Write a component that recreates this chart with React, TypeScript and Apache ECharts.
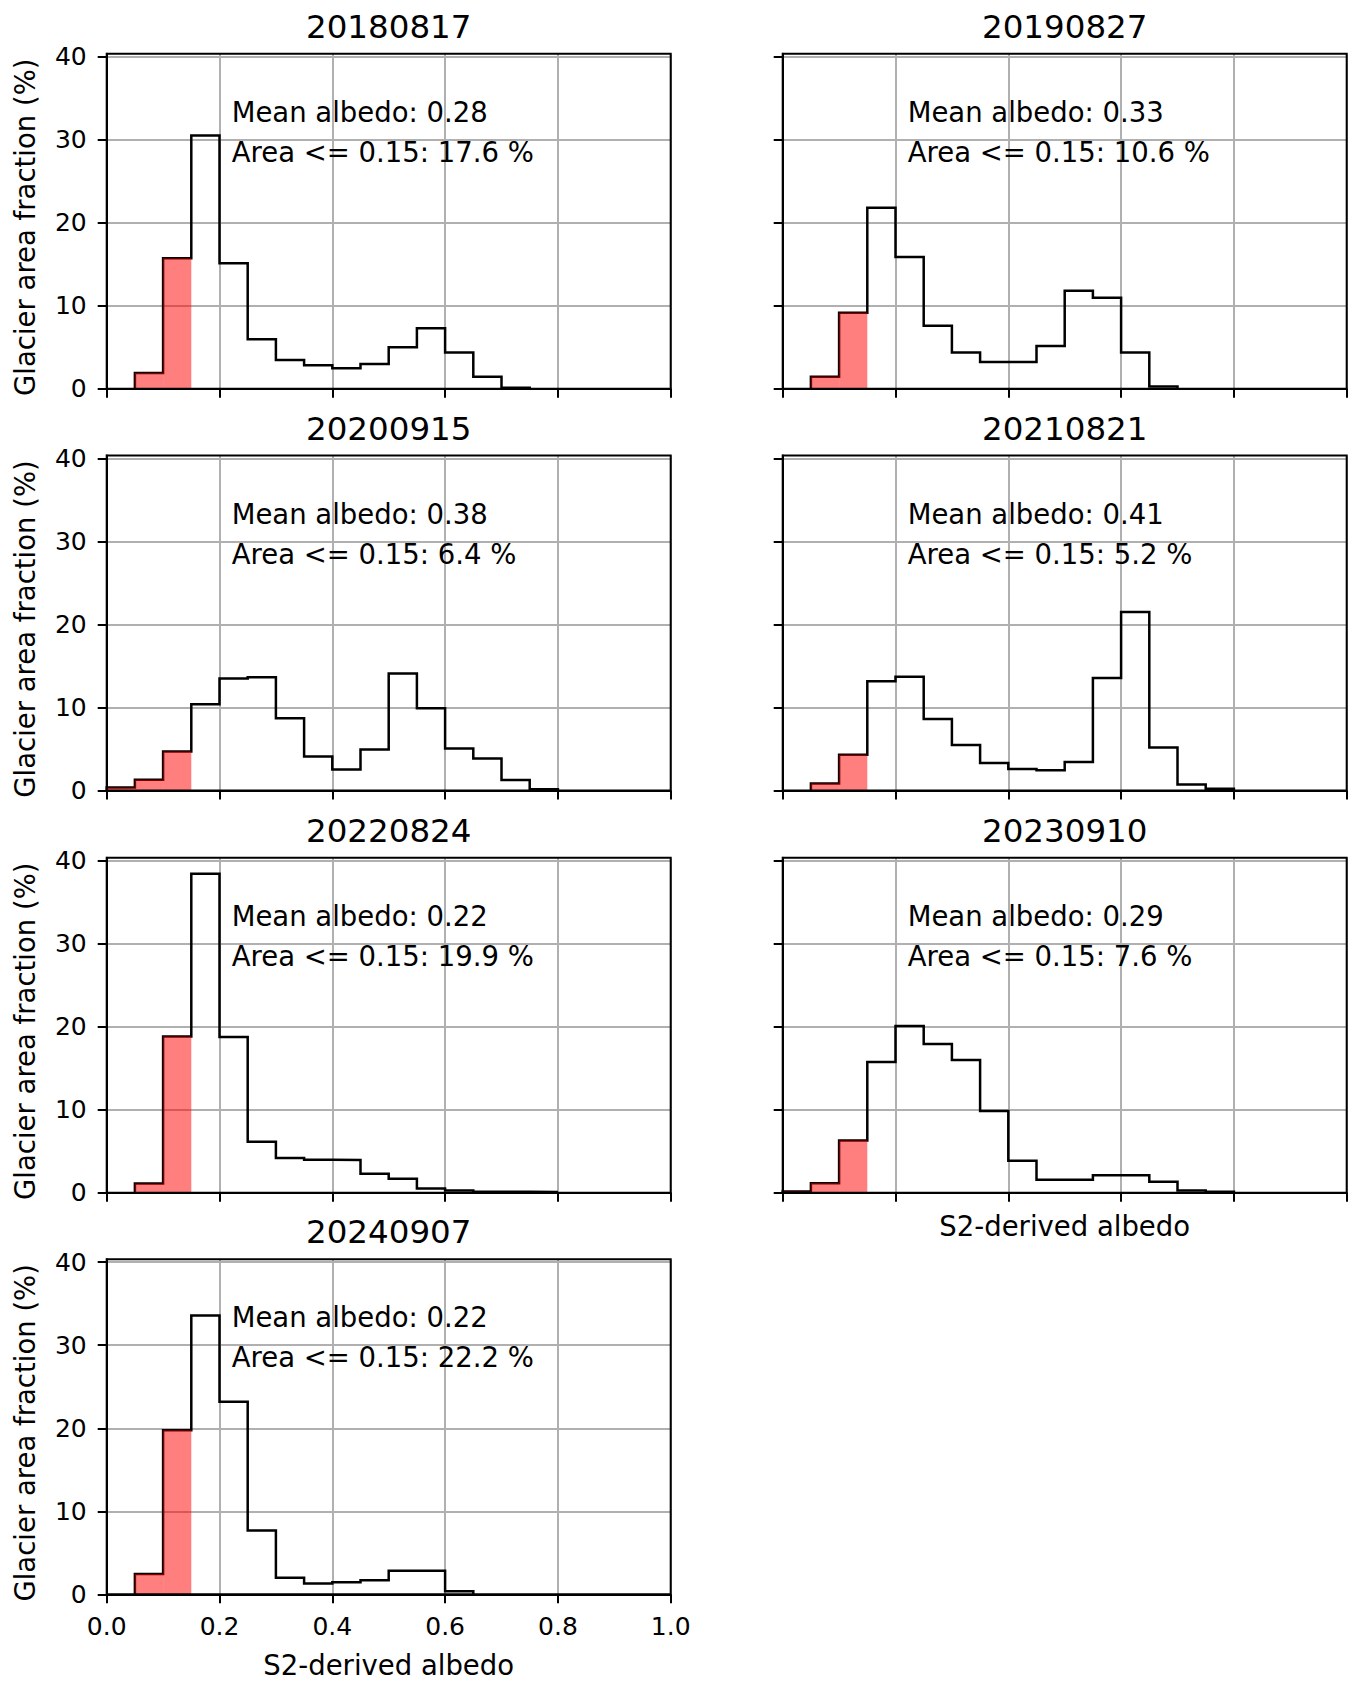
import React, { useEffect, useRef } from "react";
import * as echarts from "echarts";

// ---------------- data ----------------
const DATES = ["20180817", "20190827", "20200915", "20210821", "20220824", "20230910", "20240907"];

const BIN_EDGES = [0, 0.05, 0.1, 0.15, 0.2, 0.25, 0.3, 0.35, 0.4, 0.45, 0.5, 0.55, 0.6, 0.65, 0.7, 0.75, 0.8, 0.85, 0.9, 0.95, 1.0];

const H_20180817 = [0, 1.9, 15.7, 30.5, 15.1, 5.96, 3.46, 2.82, 2.45, 2.98, 4.99, 7.28, 4.35, 1.45, 0.1, 0, 0, 0, 0, 0];
const H_20190827 = [0, 1.45, 9.15, 21.8, 15.85, 7.57, 4.35, 3.22, 3.22, 5.15, 11.8, 10.95, 4.35, 0.28, 0, 0, 0, 0, 0, 0];
const H_20200915 = [0.35, 1.3, 4.7, 10.4, 13.5, 13.65, 8.7, 4.1, 2.54, 4.95, 14.1, 9.9, 5.07, 3.86, 1.25, 0.16, 0, 0, 0, 0];
const H_20210821 = [0, 0.85, 4.3, 13.16, 13.7, 8.6, 5.47, 3.3, 2.58, 2.45, 3.42, 13.56, 21.5, 5.19, 0.72, 0.2, 0, 0, 0, 0];
const H_20220824 = [0, 1.1, 18.8, 38.43, 18.75, 6.14, 4.18, 3.98, 3.95, 2.29, 1.69, 0.52, 0.28, 0.12, 0.1, 0.08, 0, 0, 0, 0];
const H_20230910 = [0.15, 1.15, 6.3, 15.74, 20.08, 17.9, 15.98, 9.84, 3.86, 1.57, 1.57, 2.09, 2.09, 1.33, 0.28, 0.12, 0, 0, 0, 0];
const H_20240907 = [0, 2.45, 19.75, 33.57, 23.2, 7.67, 2.0, 1.29, 1.45, 1.69, 2.85, 2.85, 0.36, 0, 0, 0, 0, 0, 0, 0];

const HISTS = [H_20180817, H_20190827, H_20200915, H_20210821, H_20220824, H_20230910, H_20240907];

const MEAN_ALBEDO = [0.28, 0.33, 0.38, 0.41, 0.22, 0.29, 0.22];
const AREA_BELOW = [17.6, 10.6, 6.4, 5.2, 19.9, 7.6, 22.2];
const THRESHOLD = 0.15;

const Y_TICKS = [0, 10, 20, 30, 40];
const X_LABEL = "S2-derived albedo";
const Y_LABEL = "Glacier area fraction (%)";

// ---------------- layout ----------------
const W = 1362;
const H = 1688;
const COL_LEFT = [106.7, 782.7];
const ROW_TOP = [53.7, 455.5, 857.7, 1259.3];
const PW = 564;
const PH = 335;
const Y_MAX = 40.35;
const FONT = '"DejaVu Sans", sans-serif';

function buildOption() {
  const grid: any[] = [];
  const xAxis: any[] = [];
  const yAxis: any[] = [];
  const series: any[] = [];
  const graphic: any[] = [];

  DATES.forEach((date, i) => {
    const col = i % 2;
    const row = Math.floor(i / 2);
    const left = COL_LEFT[col];
    const top = ROW_TOP[row];
    const hist = HISTS[i];
    const isBottomLeft = i === 6;
    const hasXName = i === 6 || i === 5;

    grid.push({ left, top, width: PW, height: PH, containLabel: false });

    xAxis.push({
      type: "value",
      gridIndex: i,
      min: 0,
      max: 1,
      interval: 0.2,
      axisLine: { show: true, onZero: false, lineStyle: { color: "#000", width: 2 } },
      axisTick: { show: true, inside: false, length: 9, lineStyle: { color: "#000", width: 2 } },
      axisLabel: {
        show: isBottomLeft,
        margin: 19.5,
        fontSize: 25,
        fontFamily: FONT,
        color: "#000",
        formatter: (v: number) => v.toFixed(1),
      },
      splitLine: { show: true, lineStyle: { color: "#b0b0b0", width: 2 } },
      name: hasXName ? X_LABEL : "",
      nameLocation: "middle",
      nameGap: isBottomLeft ? 57 : 19,
      nameTextStyle: { fontSize: 27.5, fontFamily: FONT, color: "#000" },
    });

    yAxis.push({
      type: "value",
      gridIndex: i,
      min: 0,
      max: Y_MAX,
      interval: 10,
      axisLine: { show: true, onZero: false, lineStyle: { color: "#000", width: 2 } },
      axisTick: {
        show: true,
        inside: false,
        length: 9,
        customValues: Y_TICKS,
        lineStyle: { color: "#000", width: 2 },
      },
      axisLabel: {
        show: col === 0,
        customValues: Y_TICKS,
        margin: 20,
        fontSize: 25,
        fontFamily: FONT,
        color: "#000",
        formatter: (v: number) => (Math.abs(v % 10) < 1e-9 ? String(v) : ""),
      },
      splitLine: { show: true, lineStyle: { color: "#b0b0b0", width: 2 } },
      name: col === 0 ? Y_LABEL : "",
      nameLocation: "middle",
      nameRotate: 90,
      nameGap: 67.5,
      nameTextStyle: { fontSize: 27.5, fontFamily: FONT, color: "#000", padding: [0, 12, 0, 0] },
    });

    // step outline (from first to last non-empty bin)
    let first = hist.findIndex((h) => h > 0);
    let last = hist.length - 1;
    while (last > 0 && hist[last] <= 0) last--;
    if (first < 0) first = 0;
    const stepData: number[][] = [[BIN_EDGES[first], 0]];
    for (let k = first; k <= last; k++) stepData.push([BIN_EDGES[k], hist[k]]);
    stepData.push([BIN_EDGES[last + 1], hist[last]]);
    stepData.push([BIN_EDGES[last + 1], 0]);

    series.push({
      type: "line",
      xAxisIndex: i,
      yAxisIndex: i,
      step: "end",
      symbol: "none",
      showSymbol: false,
      silent: true,
      data: stepData,
      lineStyle: { color: "#000", width: 2.5, join: "miter" },
      z: 2,
    });

    // red fill for bins <= threshold
    const redData: number[][] = [];
    hist.forEach((h, k) => {
      if (BIN_EDGES[k + 1] <= THRESHOLD + 1e-9 && h > 0) redData.push([BIN_EDGES[k], BIN_EDGES[k + 1], h]);
    });
    series.push({
      type: "custom",
      xAxisIndex: i,
      yAxisIndex: i,
      silent: true,
      z: 3,
      encode: { x: [0, 1], y: 2 },
      data: redData,
      renderItem: (params: any, api: any) => {
        const p0 = api.coord([api.value(0), api.value(2)]);
        const p1 = api.coord([api.value(1), 0]);
        return {
          type: "rect",
          shape: { x: p0[0], y: p0[1], width: p1[0] - p0[0], height: p1[1] - p0[1] },
          style: { fill: "rgba(255,0,0,0.5)", stroke: null },
        };
      },
    });

    // frame
    graphic.push({
      type: "rect",
      z: 20,
      silent: true,
      shape: { x: left, y: top, width: PW, height: PH },
      style: { fill: "none", stroke: "#000", lineWidth: 2 },
    });
    // title
    graphic.push({
      type: "text",
      z: 20,
      x: left + PW / 2,
      y: top - 27,
      style: {
        text: date,
        font: `32.5px ${FONT}`,
        fill: "#000",
        align: "center",
        verticalAlign: "middle",
        textAlign: "center",
        textVerticalAlign: "middle",
      },
    });
    // annotations
    const lines = [
      `Mean albedo: ${MEAN_ALBEDO[i].toFixed(2)}`,
      `Area <= ${THRESHOLD.toFixed(2)}: ${AREA_BELOW[i].toFixed(1)} %`,
    ];
    lines.forEach((t, j) => {
      graphic.push({
        type: "text",
        z: 20,
        x: left + 125,
        y: top + 58 + j * 40,
        style: {
          text: t,
          font: `27.5px ${FONT}`,
          fill: "#000",
          align: "left",
          verticalAlign: "middle",
          textAlign: "left",
          textVerticalAlign: "middle",
        },
      });
    });
  });

  return {
    animation: false,
    backgroundColor: "#ffffff",
    textStyle: { fontFamily: FONT },
    grid,
    xAxis,
    yAxis,
    series,
    graphic,
  };
}

export default function App() {
  const ref = useRef<HTMLDivElement>(null);
  useEffect(() => {
    if (!ref.current) return;
    const chart = echarts.init(ref.current, undefined, { renderer: "svg" });
    chart.setOption(buildOption() as any);
    return () => chart.dispose();
  }, []);
  return (
    <div
      ref={ref}
      style={{ position: "absolute", left: 0, top: 0, width: W, height: H, background: "#fff" }}
    />
  );
}
